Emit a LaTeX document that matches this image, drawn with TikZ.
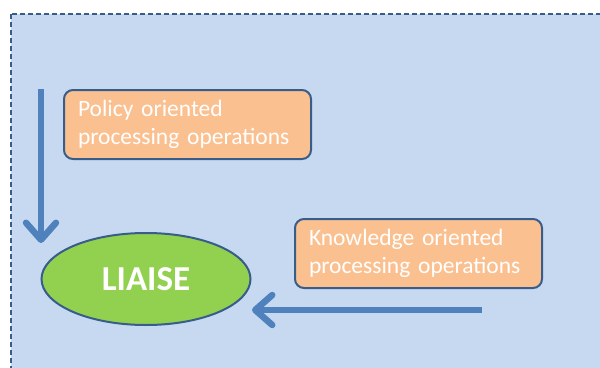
\documentclass[tikz,border=0pt]{standalone}
\usepackage{fontspec}
\setmainfont{Carlito}
\usetikzlibrary{shapes.geometric,arrows.meta}
\definecolor{bgblue}{HTML}{C6D9F1}
\definecolor{frameblue}{HTML}{385D8A}
\definecolor{arrowblue}{HTML}{4F81BD}
\definecolor{boxorange}{HTML}{FAC090}
\definecolor{ellgreen}{HTML}{92D050}
\tikzset{
  opbox/.style={draw=frameblue, line width=2pt, fill=boxorange, rounded corners=9pt,
    text width=219pt, minimum height=69pt, text=white, align=left,
    font=\fontsize{23.5}{28}\selectfont, inner xsep=14pt, inner ysep=4pt},
  flowarrow/.style={draw=arrowblue, line width=6.5pt,
    -{Straight Barb[length=17pt,width=30pt,line width=6.5pt,round]}},
}
\begin{document}
\begin{tikzpicture}[x=1pt,y=-1pt]
\useasboundingbox (0,0) rectangle (600,367);
\clip (0,0) rectangle (600,367);
\draw[fill=bgblue, draw=frameblue, line width=2pt, dash pattern=on 5pt off 3pt] (11,14) rectangle (640,400);
\node[opbox, anchor=north west] (policy) at (63,89) {Policy oriented\\processing operations};
\node[opbox, anchor=north west] (knowledge) at (294,218) {Knowledge oriented\\processing operations};
\node[ellipse, draw=frameblue, line width=2pt, fill=ellgreen, minimum width=209pt, minimum height=92pt,
  text=white, font=\fontsize{35}{40}\selectfont\bfseries] (liaise) at (146,279) {LIAISE};
\coordinate (pstart) at (41,89);
\coordinate (pend) at (41,243);
\coordinate (kstart) at (482,310);
\coordinate (kend) at (252,310);
\draw[flowarrow] (pstart) -- (pend);
\draw[flowarrow] (kstart) -- (kend);
\end{tikzpicture}
\end{document}
